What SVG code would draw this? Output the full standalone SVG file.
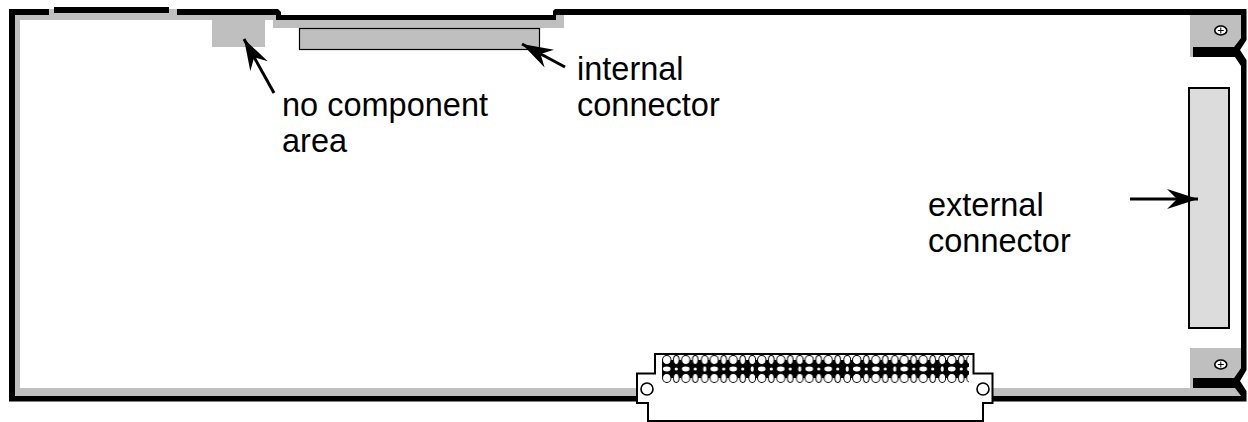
<svg xmlns="http://www.w3.org/2000/svg" width="1248" height="422" viewBox="0 0 1248 422">
<defs>
<style>
text{font-family:"Liberation Sans",Arial,sans-serif;font-size:32.5px;fill:#000}
.g{fill:#bfbfbf}
.k{fill:#000}
.scr{fill:#fff;stroke:#000;stroke-width:1.600}
.w{fill:#fff;stroke:#000;stroke-width:1}
.arrow{stroke:#000;stroke-width:3;fill:none;marker-end:url(#ah)}
</style>
<marker id="ah" markerUnits="userSpaceOnUse" markerWidth="32" markerHeight="22" refX="31" refY="11" orient="auto"><path d="M0,1L31,11L0,21L10,11Z" fill="#000"/></marker>
<pattern id="pinsP" patternUnits="userSpaceOnUse" x="662" y="355" width="47.500" height="30">
<rect x="0" y="5" width="47.500" height="18" fill="#000"/>
<ellipse class="w" cx="4.750" cy="5" rx="4.200" ry="4.400"/><ellipse class="w" cx="14.250" cy="5" rx="2.800" ry="4.400"/><ellipse class="w" cx="23.750" cy="5" rx="4.200" ry="4.400"/><ellipse class="w" cx="33.250" cy="5" rx="2.800" ry="4.400"/><ellipse class="w" cx="42.750" cy="5" rx="3.400" ry="4.400"/>
<ellipse fill="#fff" cx="4.750" cy="14" rx="3.800" ry="2.400"/><ellipse fill="#fff" cx="14.250" cy="14" rx="1.600" ry="1.600"/><ellipse fill="#fff" cx="23.750" cy="14" rx="3.800" ry="2.400"/><ellipse fill="#fff" cx="33.250" cy="14" rx="1.600" ry="1.600"/><ellipse fill="#fff" cx="42.750" cy="14" rx="1.600" ry="2.800"/>
<ellipse class="w" cx="4.750" cy="23" rx="4.200" ry="4.400"/><ellipse class="w" cx="14.250" cy="23" rx="2.800" ry="4.400"/><ellipse class="w" cx="23.750" cy="23" rx="4.200" ry="4.400"/><ellipse class="w" cx="33.250" cy="23" rx="2.800" ry="4.400"/><ellipse class="w" cx="42.750" cy="23" rx="3.400" ry="4.400"/>
</pattern>
</defs>
<rect width="1248" height="422" fill="#fff"/>
<g id="board">
<path class="g" d="M15,15H49V9H177V15H276V20H20V388H636V396H15Z"/>
<path class="g" d="M273,20H553V15H564V28H273Z"/>
<path class="g" d="M993,388H1235L1241,396H993Z"/>
<path class="k" d="M9,9H49V15H15V396H636V401.500H9Z"/>
<rect class="k" x="54" y="7" width="115" height="6"/>
<path class="g" d="M1190,15H1241V38L1234,47H1193V57H1190Z"/>
<path class="g" d="M1190,348H1241V368L1234,378H1193V388H1190Z"/>
<path class="k" d="M177,9H278L281,12V15H553V11L555,9H1246.500V40L1240,50L1246.500,60V370L1240,381L1246.500,391V401.500H993V396H1241L1235,388H1193V378H1234L1241,368V66L1235,57H1193V47H1234L1241,38V15H556V20H276V15H177Z"/>
</g>
<g id="no-component-area"><rect class="g" x="212" y="20" width="53" height="27"/></g>
<g id="internal-connector"><rect x="299.500" y="28.500" width="240" height="21" fill="#bfbfbf" stroke="#000" stroke-width="1.200"/></g>
<g id="external-connector"><rect x="1189" y="88" width="40" height="240" fill="#dcdcdc" stroke="#000" stroke-width="2"/></g>
<g id="screw-top">
<ellipse class="scr" cx="1220.800" cy="30.500" rx="6" ry="4.500"/>
<path d="M1220.800,27.500V33.500M1217.800,30.500H1223.800" stroke="#000" stroke-width="1"/>
</g>
<g id="screw-bottom">
<ellipse class="scr" cx="1220.800" cy="364.500" rx="6" ry="4.500"/>
<path d="M1220.800,361.500V367.500M1217.800,364.500H1223.800" stroke="#000" stroke-width="1"/>
</g>
<g id="edge-connector">
<path d="M655,354H973.500V373.500H992.500V403H983V421H648V403H637V373.500H655V354Z" fill="#fff" stroke="#000" stroke-width="2"/>
<circle class="scr" cx="647" cy="389" r="6"/>
<circle class="scr" cx="983" cy="389" r="6"/>
<rect id="pins" x="662" y="355" width="307" height="29" fill="url(#pinsP)"/>
</g>
<g id="connectors">
<path class="arrow" d="M274,93L244,39"/>
<path class="arrow" d="M565,67L522,44"/>
<path class="arrow" d="M1130,199H1198"/>
</g>
<g id="labels">
<text x="282" y="116">no component</text>
<text x="282" y="152">area</text>
<text x="577" y="80">internal</text>
<text x="577" y="116">connector</text>
<text x="928" y="216">external</text>
<text x="928" y="252">connector</text>
</g>
</svg>
